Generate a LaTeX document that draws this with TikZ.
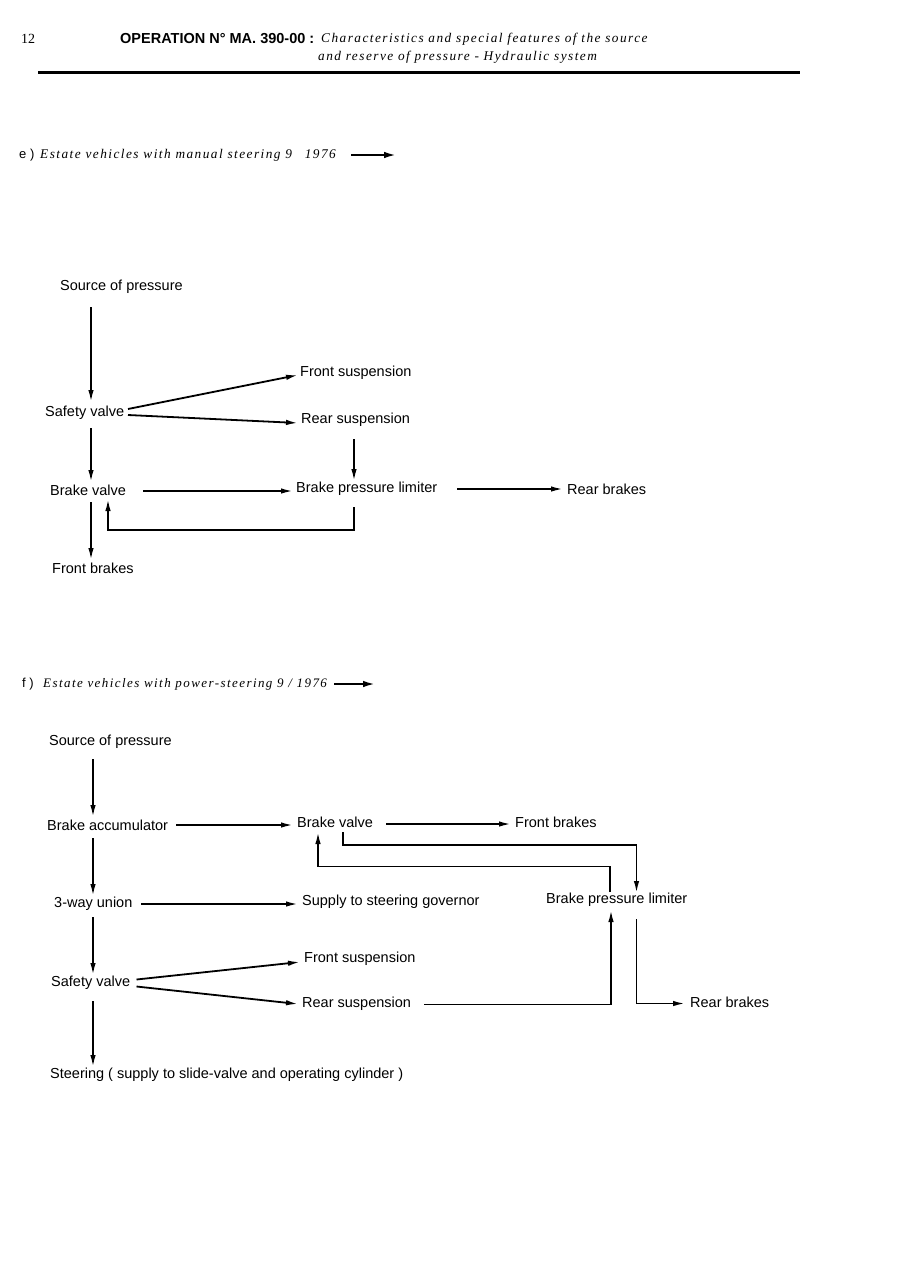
\documentclass[tikz,border=0pt]{standalone}
\usepackage{fontspec}
\setmainfont{Liberation Sans}
\newfontfamily\labfont{Liberation Sans}
\newfontfamily\hdbold{Liberation Sans}
\newfontfamily\hdit{Liberation Serif}[LetterSpace=11]
\newfontfamily\numfont{Liberation Serif}
\usetikzlibrary{arrows.meta}
\begin{document}
\begin{tikzpicture}[x=1pt,y=-1pt,
  lab/.style={anchor=west, inner sep=0pt, font=\labfont\fontsize{14.5}{17}\selectfont},
  ttl/.style={anchor=west, inner sep=0pt, font=\hdit\itshape\fontsize{13.3}{15}\selectfont},
  arr/.style={line width=1.8pt, -{Latex[length=12pt,width=5.5pt]}},
  tarr/.style={line width=2.4pt, -{Latex[length=13pt,width=6.5pt]}}]
\fill[white] (0,0) rectangle (899,1264);
\useasboundingbox (0,0) rectangle (899,1264);

% header
\node[anchor=west, inner sep=0pt, font=\numfont\fontsize{14}{16}\selectfont] (pg) at (21,39) {12};
\node[anchor=west, inner sep=0pt, font=\hdbold\bfseries\fontsize{14.5}{17}\selectfont] (op) at (120,39) {OPERATION N° MA. 390-00 :};
\node[ttl] (t1) at (321,39) {Characteristics and special features of the source};
\node[ttl] (t2) at (318,57) {and reserve of pressure - Hydraulic system};
\draw[line width=3.5pt] (38,72.5) -- (800,72.5);

% section e
\node[anchor=west, inner sep=0pt, font=\labfont\fontsize{13}{15}\selectfont] (eLet) at (19,155) {e )};
\node[ttl] (eTitle) at (40,155) {Estate vehicles with manual steering 9\hspace{8pt} 1976};
\coordinate (eA1) at (351,155);
\coordinate (eA2) at (397,155);
\draw[tarr] (eA1) -- (eA2);

\node[lab] (eSrc) at (60,287) {Source of pressure};
\node[lab] (eSV) at (45,413) {Safety valve};
\node[lab] (eFS) at (300,373) {Front suspension};
\node[lab] (eRS) at (301,420) {Rear suspension};
\node[lab] (eBV) at (50,490) {Brake valve};
\node[lab] (eBPL) at (296,489) {Brake pressure limiter};
\node[lab] (eRB) at (567,489) {Rear brakes};
\node[lab] (eFB) at (52,568) {Front brakes};

\draw[arr] ([xshift=31pt,yshift=-20pt]eSrc.west) -- ([xshift=46pt,yshift=11pt]eSV.west);
\draw[arr] ([xshift=83pt,yshift=4pt]eSV.west) -- ([xshift=-2pt,yshift=-2pt]eFS.west);
\draw[arr] ([xshift=83pt,yshift=-2pt]eSV.west) -- ([xshift=-3pt,yshift=-3pt]eRS.west);
\draw[arr] ([xshift=46pt,yshift=-15pt]eSV.west) -- ([xshift=41pt,yshift=8pt]eBV.west);
\draw[arr] ([xshift=53pt,yshift=-19pt]eRS.west) -- ([xshift=58pt,yshift=8pt]eBPL.west);
\draw[arr] ([xshift=93pt,yshift=-1pt]eBV.west) -- ([xshift=-3pt,yshift=-2pt]eBPL.west);
\draw[arr] ([xshift=161pt]eBPL.west) -- ([xshift=-4pt]eRB.west);
\draw[arr] ([xshift=41pt,yshift=-12pt]eBV.west) -- ([xshift=39pt,yshift=8pt]eFB.west);
\draw[arr] ([xshift=58pt,yshift=-18pt]eBPL.west) -- ++(0,23) -| ([xshift=58pt,yshift=-9pt]eBV.west);

% section f
\node[anchor=west, inner sep=0pt, font=\labfont\fontsize{13}{15}\selectfont] (fLet) at (22,684) {f )};
\node[ttl, font=\hdit\itshape\fontsize{13}{15}\selectfont] (fTitle) at (43,684) {Estate vehicles with power-steering 9 / 1976};
\coordinate (fA1) at (334,684);
\coordinate (fA2) at (376,684);
\draw[tarr] (fA1) -- (fA2);

\node[lab] (fSrc) at (49,742) {Source of pressure};
\node[lab] (fBA) at (47,825) {Brake accumulator};
\node[lab] (fBV) at (297,822) {Brake valve};
\node[lab] (fFB) at (515,822) {Front brakes};
\node[lab] (fTU) at (54,904) {3-way union};
\node[lab] (fSG) at (302,902) {Supply to steering governor};
\node[lab] (fBPL) at (546,900) {Brake pressure limiter};
\node[lab] (fSV) at (51,983) {Safety valve};
\node[lab] (fFS) at (304,959) {Front suspension};
\node[lab] (fRS) at (302,1004) {Rear suspension};
\node[lab] (fRB) at (690,1002) {Rear brakes};
\node[lab] (fSt) at (50,1075) {Steering ( supply to slide-valve and operating cylinder )};

\draw[arr] ([xshift=44pt,yshift=-17pt]fSrc.west) -- ([xshift=46pt,yshift=8pt]fBA.west);
\draw[arr] ([xshift=129pt]fBA.west) -- ([xshift=-4pt,yshift=-3pt]fBV.west);
\draw[arr] ([xshift=89pt,yshift=-2pt]fBV.west) -- ([xshift=-4pt,yshift=-2pt]fFB.west);
\draw[arr] ([xshift=46pt,yshift=-10pt]fBV.west) -- ++(0,13) -| ([xshift=90.5pt,yshift=7pt]fBPL.west);
\draw[arr] ([xshift=64pt,yshift=8pt]fBPL.west) -- ++(0,-25.5) -| ([xshift=21pt,yshift=-10pt]fBV.west);
\draw[arr] ([xshift=46pt,yshift=-13pt]fBA.west) -- ([xshift=39pt,yshift=8pt]fTU.west);
\draw[arr] ([xshift=87pt]fTU.west) -- ([xshift=-4pt,yshift=-2pt]fSG.west);
\draw[arr] ([xshift=39pt,yshift=-13pt]fTU.west) -- ([xshift=42pt,yshift=8pt]fSV.west);
\draw[arr] ([xshift=85.5pt,yshift=3.5pt]fSV.west) -- ([xshift=-4pt,yshift=-3pt]fFS.west);
\draw[arr] ([xshift=85.5pt,yshift=-3.5pt]fSV.west) -- ([xshift=-4pt]fRS.west);
\draw[arr] ([xshift=122pt,yshift=-0.5pt]fRS.west) -| ([xshift=65pt,yshift=-10pt]fBPL.west);
\draw[arr] ([xshift=90.5pt,yshift=-19pt]fBPL.west) |- ([xshift=-5pt,yshift=-1.5pt]fRB.west);
\draw[arr] ([xshift=42pt,yshift=-18pt]fSV.west) -- ([xshift=43pt,yshift=8pt]fSt.west);
\end{tikzpicture}
\end{document}
